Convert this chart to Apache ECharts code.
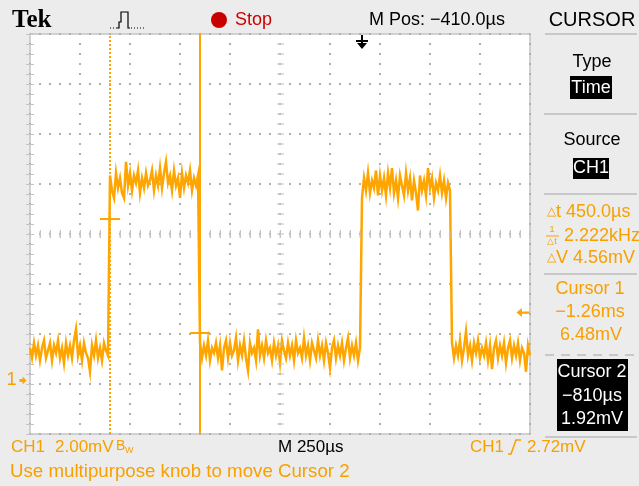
<!DOCTYPE html>
<html><head><meta charset="utf-8">
<script src="https://cdn.jsdelivr.net/npm/echarts@6/dist/echarts.min.js"></script>
<style>html,body{margin:0;padding:0;background:#ECECEC}#c{width:639px;height:486px}</style>
</head><body><div id="c"></div>
<script>
// ---- display settings ----
const timeRangeUs = [-1660, 840];     // M Pos -410 µs, 250 µs/div, 10 div
const voltRangeMv = [-2.14, 13.86];   // 2 mV/div, 8 div, CH1 ground marker
const sampleStepUs = 10;

// ---- trace samples (mV) ----
const seg1StartUs = -1660;
const seg1Mv = [1.3,0.9,1.5,1.0,1.4,0.8,1.3,1.6,0.9,1.2,
  1.5,0.8,1.4,1.1,1.6,0.9,1.3,0.7,1.5,1.0,
  1.4,0.9,1.6,2.05,1.0,1.4,0.8,1.5,1.1,0.9,
  0.35,1.4,1.0,1.6,0.9,1.3,0.8,1.5,1.2,1.0];
const seg2StartUs = -1260;
const seg2Mv = [8.2,7.6,7.3,8.3,7.7,8.1,7.5,7.3,8.75,7.8,
  8.3,7.6,8.2,7.9,8.4,7.5,8.1,7.7,8.3,7.8,
  8.0,8.4,7.6,8.2,7.8,8.5,7.7,8.3,8.75,7.9,
  8.2,7.6,8.4,7.8,8.1,7.3,8.3,7.7,8.2,7.9,
  8.4,7.6,8.1,7.8,8.2];
const seg3StartUs = -810;
const seg3Mv = [1.5,0.9,1.4,1.0,1.6,0.8,1.3,1.1,1.5,0.9,
  1.4,0.4,1.3,1.6,0.9,1.5,1.0,1.2,1.7,0.8,
  1.4,1.0,1.6,0.9,0.4,1.5,1.1,1.3,0.8,2.05,
  1.0,1.4,0.9,1.6,1.1,1.3,0.8,1.5,1.0,1.4,
  0.7,1.6,1.2,0.9,1.5,1.0,1.4,0.8,1.6,1.1,
  1.3,0.9,1.7,1.0,1.4,0.8,1.5,1.2,0.9,1.6,
  1.0,1.4,0.8,1.5,1.1,0.5,1.3,1.6,0.9,1.4,
  1.0,1.5,0.8,1.3,1.7,0.9,1.4,1.0,1.5,0.8,1.3];
const seg4StartUs = 0;
const seg4Mv = [7.3,8.1,7.6,8.3,7.5,8.0,7.7,8.4,7.4,8.2,
  7.6,8.1,7.4,8.3,7.7,8.5,7.5,8.0,7.3,8.2,
  7.8,7.4,8.3,7.6,8.1,7.2,8.0,7.5,6.8,8.2,
  7.6,8.0,7.4,8.5,7.7,8.1,7.3,7.9,7.6,8.2,
  7.5,8.0,7.3,7.9,7.6];
const seg5StartUs = 450;
const seg5Mv = [1.5,0.9,1.4,1.0,1.6,0.8,1.3,1.95,1.0,1.4,
  0.8,1.5,1.1,1.6,0.9,1.3,1.0,1.5,0.8,1.4,
  0.45,1.3,1.6,0.9,1.4,1.0,1.5,0.7,1.3,1.6,
  0.9,1.4,1.0,1.5,0.8,1.3,1.1,0.35,1.4,1.0];

// ---- cursors / trigger ----
const cursor1 = { t: -1260, v: 6.48 };
const cursor2 = { t: -810, v: 1.92 };
const triggerLevelMv = 2.72;
const triggerTimeUs = 0;

// ---- texts ----
const topTexts = { logo: 'Tek', state: 'Stop', mpos: 'M Pos: \u2212410.0\u00b5s' };
const panelTexts = {
  title: 'CURSOR', typeLbl: 'Type', typeVal: 'Time', srcLbl: 'Source', srcVal: 'CH1',
  dt: '450.0\u00b5s', freq: '2.222kHz', dv: '4.56mV',
  c1: ['Cursor 1', '\u22121.26ms', '6.48mV'],
  c2: ['Cursor 2', '\u2212810\u00b5s', '1.92mV']
};
const bottomTexts = { ch: 'CH1', scale: '2.00mV', bw: 'B', bwSub: 'W', time: 'M 250\u00b5s', trigCh: 'CH1', trigLvl: '2.72mV',
  msg: 'Use multipurpose knob to move Cursor 2' };

const ORANGE = '#FFA500';
const TXT_OR = '#F7A000';
const GRAY = '#C4C4C4';
const DOT = '#AFAFAF';
const FONT = "'Liberation Sans', Arial, sans-serif";

function seg(start, arr) { return arr.map((v, i) => [start + i * sampleStepUs, v]); }
const traceData = [].concat(seg(seg1StartUs, seg1Mv), seg(seg2StartUs, seg2Mv), seg(seg3StartUs, seg3Mv),
  seg(seg4StartUs, seg4Mv), seg(seg5StartUs, seg5Mv));

function T(text, x, y, o) {
  o = o || {};
  return { type: 'text', silent: true, z: 10, style: Object.assign({
    text: text, x: x, y: y, fill: o.fill || '#000',
    font: (o.weight || 'normal') + ' ' + (o.size || 18) + 'px ' + (o.family || FONT),
    align: o.align || 'left', verticalAlign: 'middle', textAlign: o.align || 'left', textVerticalAlign: 'middle'
  }, o.rich ? { rich: o.rich } : {}) };
}
function L(pts, color, w, dash) {
  return { type: 'polyline', silent: true, z: 10, shape: { points: pts },
    style: { stroke: color, lineWidth: w || 2, fill: null, lineDash: dash || null } };
}
function R(x, y, w, h, fill) {
  return { type: 'rect', silent: true, z: 9, shape: { x: x, y: y, width: w, height: h }, style: { fill: fill } };
}

const tickStyle = { show: true, inside: true, length: 4, lineStyle: { color: GRAY, width: 1 } };
const minorStyle = { show: true, splitNumber: 5, length: 4, lineStyle: { color: GRAY, width: 1 } };
const gratAxis = (extra) => Object.assign({ type: 'value', axisLine: { show: false }, axisLabel: { show: false },
  axisTick: tickStyle, minorTick: minorStyle, splitLine: { show: false } }, extra);
const dotLine = { show: true, lineStyle: { color: DOT, width: 2, type: [2, 8], dashOffset: 1 } };

const option = {
  backgroundColor: '#ECECEC',
  animation: false,
  grid: [
    { left: 30, top: 34, width: 500, height: 400, show: false },
    { left: 30, top: 34, width: 500, height: 400, show: true, backgroundColor: '#FFFFFF', borderColor: GRAY, borderWidth: 1.5, z: -1 }
  ],
  xAxis: [
    { type: 'value', gridIndex: 0, min: timeRangeUs[0], max: timeRangeUs[1], show: false },
    gratAxis({ gridIndex: 1, min: 0, max: 10, interval: 1, position: 'bottom', splitLine: dotLine }),
    gratAxis({ gridIndex: 1, min: 0, max: 10, interval: 1, position: 'top' })
  ],
  yAxis: [
    { type: 'value', gridIndex: 0, min: voltRangeMv[0], max: voltRangeMv[1], show: false },
    gratAxis({ gridIndex: 1, min: -4, max: 4, interval: 1, position: 'left', splitLine: dotLine }),
    gratAxis({ gridIndex: 1, min: -4, max: 4, interval: 1, position: 'right' })
  ],
  series: [
    { type: 'line', xAxisIndex: 1, yAxisIndex: 1, data: [], z: 1, silent: true,
      markLine: { silent: true, symbol: ['none', 'none'], label: { show: false },
        lineStyle: { color: GRAY, width: 7, type: [1, 9], dashOffset: 0.5 },
        emphasis: { disabled: true },
        data: [{ yAxis: 0 }, { xAxis: 5 }] } },
    { type: 'line', xAxisIndex: 0, yAxisIndex: 0, data: traceData, showSymbol: false, symbol: 'none',
      lineStyle: { color: ORANGE, width: 2.5, join: 'miter', cap: 'butt' }, z: 3, silent: true, clip: true },
    { type: 'line', xAxisIndex: 0, yAxisIndex: 0, data: [], z: 4, silent: true,
      markLine: { silent: true, symbol: ['none', 'none'], label: { show: false }, emphasis: { disabled: true },
        lineStyle: { color: ORANGE, width: 2, type: 'solid' },
        data: [
          { xAxis: cursor1.t, lineStyle: { color: ORANGE, width: 2, type: [2, 2] } },
          { xAxis: cursor2.t, lineStyle: { color: ORANGE, width: 2, type: 'solid' } },
          [{ coord: [cursor1.t - 50, cursor1.v] }, { coord: [cursor1.t + 50, cursor1.v] }],
          [{ coord: [cursor2.t - 50, cursor2.v] }, { coord: [cursor2.t + 50, cursor2.v] }]
        ] },
      markPoint: { silent: true, label: { show: false }, emphasis: { disabled: true },
        data: [
          { coord: [triggerTimeUs, voltRangeMv[1]], symbol: 'path://M5,0H7V5H12V7H7V8H11L6,14L1,8H5V7H0V5H5Z',
            symbolSize: [12, 14], symbolOffset: [0, 8], itemStyle: { color: '#000' } },
          { coord: [timeRangeUs[1], triggerLevelMv], symbol: 'path://M0,4L5,0V3H12V5H5V8Z',
            symbolSize: [13, 9], symbolOffset: [-7, 0], itemStyle: { color: ORANGE } },
          { coord: [timeRangeUs[0], 0], symbol: 'path://M0,3H4V0L9,5L4,10V7H0Z',
            symbolSize: [7, 8], symbolOffset: [-7, 0], itemStyle: { color: ORANGE },
            label: { show: true, formatter: '1', position: 'left', distance: 3, color: TXT_OR, fontSize: 18, fontFamily: FONT } }
        ] } }
  ],
  graphic: [
    // top bar
    T(topTexts.logo, 12, 21, { size: 25, weight: 'bold', family: "'Liberation Serif', 'Times New Roman', serif" }),
    L([[110, 28], [117, 28]], '#000', 1.2, [1, 2]),
    L([[117, 28], [119, 28], [119, 22], [121, 22], [121, 12], [128, 12], [128, 28], [130, 28]], '#000', 1.2),
    L([[131, 28], [146, 28]], '#000', 1.2, [1, 2]),
    { type: 'circle', silent: true, z: 10, shape: { cx: 219, cy: 20, r: 8 }, style: { fill: '#C80000' } },
    T(topTexts.state, 235, 20, { fill: '#CC0000', size: 18 }),
    T(topTexts.mpos, 369, 20, { size: 18 }),
    // right panel
    T(panelTexts.title, 592, 20, { size: 20, align: 'center' }),
    L([[545, 34], [637, 34]], '#C8C8C8', 2),
    T(panelTexts.typeLbl, 592, 62, { align: 'center' }),
    R(570, 76, 42, 23, '#000'),
    T(panelTexts.typeVal, 591, 88, { align: 'center', fill: '#FFF' }),
    L([[544, 114], [637, 114]], '#C8C8C8', 2),
    T(panelTexts.srcLbl, 592, 140, { align: 'center' }),
    R(573, 158, 36, 21, '#000'),
    T(panelTexts.srcVal, 591, 168, { align: 'center', fill: '#FFF' }),
    L([[544, 194], [637, 194]], '#C8C8C8', 2),
    T('{a|\u25b3}t ' + panelTexts.dt, 547, 212, { fill: TXT_OR, rich: { a: { fontSize: 12, fill: TXT_OR, fontFamily: FONT } } }),
    T('1', 552, 230, { fill: TXT_OR, size: 9, align: 'center' }),
    L([[546, 236], [559, 236]], TXT_OR, 1),
    T('\u25b3t', 552, 242, { fill: TXT_OR, size: 9, align: 'center' }),
    T(panelTexts.freq, 564, 236, { fill: TXT_OR }),
    T('{a|\u25b3}V ' + panelTexts.dv, 547, 258, { fill: TXT_OR, rich: { a: { fontSize: 12, fill: TXT_OR, fontFamily: FONT } } }),
    L([[544, 274], [637, 274]], '#C8C8C8', 2),
    T(panelTexts.c1[0], 590, 289, { fill: TXT_OR, align: 'center' }),
    T(panelTexts.c1[1], 590, 312, { fill: TXT_OR, align: 'center' }),
    T(panelTexts.c1[2], 591, 335, { fill: TXT_OR, align: 'center' }),
    L([[545, 355], [637, 355]], '#C8C8C8', 2, [9, 7]),
    R(557, 359, 71, 72, '#000'),
    T(panelTexts.c2[0], 592, 372, { fill: '#FFF', align: 'center' }),
    T(panelTexts.c2[1], 592, 396, { fill: '#FFF', align: 'center' }),
    T(panelTexts.c2[2], 592, 419, { fill: '#FFF', align: 'center' }),
    L([[545, 437], [637, 437]], '#C8C8C8', 2),
    // bottom
    T(bottomTexts.ch, 11, 447, { fill: TXT_OR, size: 17 }),
    T(bottomTexts.scale, 55, 447, { fill: TXT_OR, size: 17 }),
    T(bottomTexts.bw, 116, 446, { fill: TXT_OR, size: 14 }),
    T(bottomTexts.bwSub, 125, 451, { fill: TXT_OR, size: 9 }),
    T(bottomTexts.time, 278, 447, { size: 17 }),
    T(bottomTexts.trigCh, 470, 447, { fill: TXT_OR, size: 17 }),
    L([[508, 454], [511, 454], [516, 440], [521, 440]], TXT_OR, 1.5),
    T(bottomTexts.trigLvl, 527, 447, { fill: TXT_OR, size: 17 }),
    T(bottomTexts.msg, 10, 472, { fill: TXT_OR, size: 18.7 })
  ]
};

const chart = echarts.init(document.getElementById('c'), null, { renderer: 'canvas' });
chart.setOption(option);
</script></body></html>
